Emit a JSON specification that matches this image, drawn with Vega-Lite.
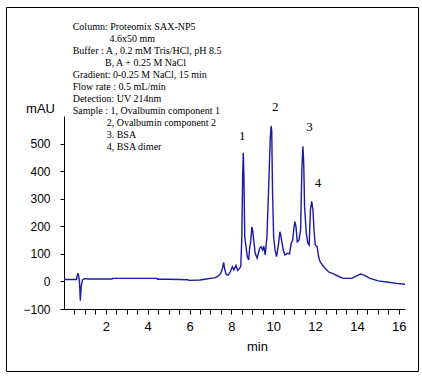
{
  "$schema": "https://vega.github.io/schema/vega-lite/v6.json",
  "width": 412,
  "height": 364,
  "autosize": {"type": "none"},
  "padding": {"left": 6, "top": 7, "right": 4, "bottom": 6},
  "background": "white",
  "config": {
    "view": {"stroke": "black", "strokeWidth": 1},
    "axis": {"grid": false, "domainColor": "black", "tickColor": "black", "labelColor": "black", "titleColor": "black", "labelFont": "Liberation Sans", "titleFont": "Liberation Sans", "titleFontWeight": "normal", "labelOverlap": false}
  },
  "datasets": {
    "trace": [
      {"min": 0.0, "mAU": 7}, {"min": 0.6, "mAU": 7}, {"min": 0.66, "mAU": 30}, {"min": 0.7, "mAU": 20},
      {"min": 0.74, "mAU": 0}, {"min": 0.78, "mAU": -70}, {"min": 0.82, "mAU": -20}, {"min": 0.88, "mAU": 5},
      {"min": 0.96, "mAU": 10}, {"min": 1.2, "mAU": 9}, {"min": 2.0, "mAU": 9}, {"min": 2.3, "mAU": 9},
      {"min": 2.32, "mAU": 11}, {"min": 3.0, "mAU": 11}, {"min": 4.0, "mAU": 11}, {"min": 4.45, "mAU": 11},
      {"min": 4.47, "mAU": 8}, {"min": 5.0, "mAU": 8}, {"min": 5.5, "mAU": 7}, {"min": 5.9, "mAU": 6},
      {"min": 6.0, "mAU": 4}, {"min": 6.5, "mAU": 5}, {"min": 6.8, "mAU": 9}, {"min": 7.0, "mAU": 11},
      {"min": 7.2, "mAU": 13}, {"min": 7.35, "mAU": 18}, {"min": 7.5, "mAU": 30}, {"min": 7.58, "mAU": 50},
      {"min": 7.63, "mAU": 69}, {"min": 7.68, "mAU": 45}, {"min": 7.75, "mAU": 25}, {"min": 7.85, "mAU": 23},
      {"min": 7.95, "mAU": 35}, {"min": 8.05, "mAU": 53}, {"min": 8.12, "mAU": 42}, {"min": 8.22, "mAU": 58},
      {"min": 8.3, "mAU": 40}, {"min": 8.4, "mAU": 48}, {"min": 8.45, "mAU": 55}, {"min": 8.5, "mAU": 160},
      {"min": 8.54, "mAU": 380}, {"min": 8.57, "mAU": 467}, {"min": 8.6, "mAU": 380}, {"min": 8.64, "mAU": 162},
      {"min": 8.7, "mAU": 126}, {"min": 8.76, "mAU": 90}, {"min": 8.83, "mAU": 78}, {"min": 8.88, "mAU": 126},
      {"min": 8.92, "mAU": 140}, {"min": 8.98, "mAU": 198}, {"min": 9.02, "mAU": 185}, {"min": 9.07, "mAU": 150},
      {"min": 9.14, "mAU": 102}, {"min": 9.23, "mAU": 84}, {"min": 9.35, "mAU": 120}, {"min": 9.42, "mAU": 126},
      {"min": 9.5, "mAU": 114}, {"min": 9.55, "mAU": 128}, {"min": 9.62, "mAU": 96}, {"min": 9.7, "mAU": 162},
      {"min": 9.8, "mAU": 380}, {"min": 9.86, "mAU": 520}, {"min": 9.9, "mAU": 564}, {"min": 9.93, "mAU": 545},
      {"min": 9.97, "mAU": 320}, {"min": 10.02, "mAU": 162}, {"min": 10.09, "mAU": 114}, {"min": 10.16, "mAU": 90},
      {"min": 10.24, "mAU": 126}, {"min": 10.32, "mAU": 180}, {"min": 10.36, "mAU": 170}, {"min": 10.4, "mAU": 150},
      {"min": 10.48, "mAU": 114}, {"min": 10.56, "mAU": 96}, {"min": 10.68, "mAU": 102}, {"min": 10.78, "mAU": 100},
      {"min": 10.86, "mAU": 138}, {"min": 10.93, "mAU": 150}, {"min": 11.0, "mAU": 200}, {"min": 11.04, "mAU": 217},
      {"min": 11.09, "mAU": 198}, {"min": 11.15, "mAU": 144}, {"min": 11.23, "mAU": 150}, {"min": 11.31, "mAU": 187},
      {"min": 11.37, "mAU": 404}, {"min": 11.42, "mAU": 490}, {"min": 11.46, "mAU": 428}, {"min": 11.5, "mAU": 271},
      {"min": 11.58, "mAU": 175}, {"min": 11.66, "mAU": 138}, {"min": 11.72, "mAU": 132}, {"min": 11.78, "mAU": 259},
      {"min": 11.84, "mAU": 290}, {"min": 11.9, "mAU": 259}, {"min": 11.95, "mAU": 187}, {"min": 12.01, "mAU": 132},
      {"min": 12.1, "mAU": 126}, {"min": 12.17, "mAU": 90}, {"min": 12.24, "mAU": 72}, {"min": 12.35, "mAU": 60},
      {"min": 12.48, "mAU": 48}, {"min": 12.64, "mAU": 35}, {"min": 12.88, "mAU": 27}, {"min": 13.16, "mAU": 17},
      {"min": 13.35, "mAU": 11}, {"min": 13.75, "mAU": 11}, {"min": 13.99, "mAU": 20}, {"min": 14.18, "mAU": 27},
      {"min": 14.34, "mAU": 23}, {"min": 14.63, "mAU": 11}, {"min": 15.02, "mAU": 2}, {"min": 15.5, "mAU": -3},
      {"min": 15.9, "mAU": -7}, {"min": 16.3, "mAU": -10}
    ],
    "notes": [
      {"x": 0.416, "y": 924, "text": "Column: Proteomix SAX-NP5"},
      {"x": 2.17, "y": 880, "text": "4.6x50 mm"},
      {"x": 0.416, "y": 837, "text": "Buffer : A , 0.2 mM Tris/HCl, pH 8.5"},
      {"x": 1.96, "y": 793, "text": "B, A + 0.25 M NaCl"},
      {"x": 0.416, "y": 750, "text": "Gradient: 0-0.25 M NaCl, 15 min"},
      {"x": 0.416, "y": 706, "text": "Flow rate : 0.5 mL/min"},
      {"x": 0.416, "y": 663, "text": "Detection: UV 214nm"},
      {"x": 0.416, "y": 619, "text": "Sample : 1, Ovalbumin component 1"},
      {"x": 2.04, "y": 576, "text": "2, Ovalbumin component 2"},
      {"x": 2.04, "y": 532, "text": "3. BSA"},
      {"x": 2.04, "y": 489, "text": "4, BSA dimer"}
    ],
    "peaks": [
      {"x": 8.52, "y": 527, "text": "1"},
      {"x": 10.1, "y": 633, "text": "2"},
      {"x": 11.73, "y": 560, "text": "3"},
      {"x": 12.14, "y": 357, "text": "4"}
    ]
  },
  "layer": [
    {
      "data": {"name": "trace"},
      "mark": {"type": "line", "color": "#1a1aa6", "strokeWidth": 1.4, "interpolate": "linear"},
      "encoding": {
        "x": {
          "field": "min", "type": "quantitative",
          "scale": {"domain": [0, 16.3], "range": [58, 399], "nice": false, "zero": false},
          "axis": {
            "orient": "bottom", "offset": -62, "title": "min",
            "values": [0.5, 1, 1.5, 2, 2.5, 3, 3.5, 4, 4.5, 5, 5.5, 6, 6.5, 7, 7.5, 8, 8.5, 9, 9.5, 10, 10.5, 11, 11.5, 12, 12.5, 13, 13.5, 14, 14.5, 15, 15.5, 16],
            "tickCount": 200,
            "labelExpr": "datum.value % 2 === 0 ? '' + datum.value : ''",
            "tickSize": 5, "labelPadding": 6, "labelFontSize": 13, "labelFlush": false, "labelOverlap": false,
            "titleFontSize": 13, "titleX": 251, "titleY": 37, "titleBaseline": "middle", "titleAlign": "center"
          }
        },
        "y": {
          "field": "mAU", "type": "quantitative",
          "scale": {"domain": [-100, 600], "range": [302, 109], "nice": false, "zero": false},
          "axis": {
            "orient": "left", "offset": -58, "title": "mAU",
            "values": [-100, 0, 100, 200, 300, 400, 500],
            "tickCount": 50,
            "tickSize": 4, "labelPadding": 10, "labelFontSize": 12, "labelOverlap": false,
            "titleFontSize": 13, "titleAngle": 0, "titleX": -24, "titleY": 101,
            "titleAlign": "center", "titleBaseline": "middle"
          }
        }
      }
    },
    {
      "data": {"name": "notes"},
      "mark": {"type": "text", "align": "left", "baseline": "middle", "font": "Liberation Serif", "fontSize": 10, "color": "black"},
      "encoding": {
        "x": {"field": "x", "type": "quantitative"},
        "y": {"field": "y", "type": "quantitative"},
        "text": {"field": "text"}
      }
    },
    {
      "data": {"name": "peaks"},
      "mark": {"type": "text", "align": "center", "baseline": "middle", "font": "Liberation Serif", "fontSize": 13, "color": "black"},
      "encoding": {
        "x": {"field": "x", "type": "quantitative"},
        "y": {"field": "y", "type": "quantitative"},
        "text": {"field": "text"}
      }
    }
  ]
}
